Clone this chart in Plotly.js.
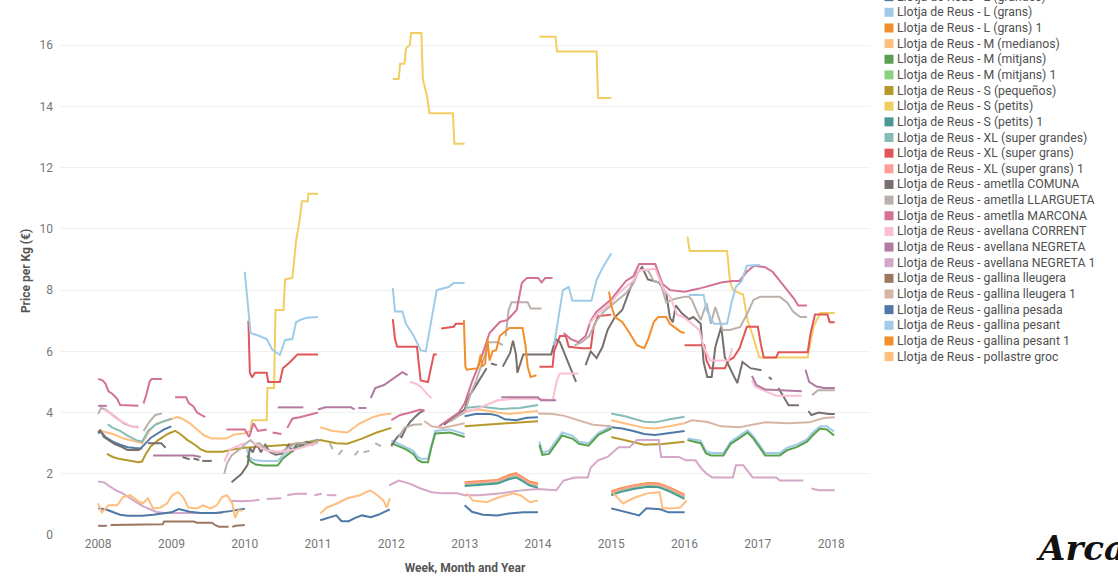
<!DOCTYPE html>
<html>
<head>
<meta charset="utf-8">
<script src="https://cdn.plot.ly/plotly-3.0.1.min.js"></script>
<style>html,body{margin:0;padding:0;background:#fff;}#chart{width:1118px;height:576px;}</style>
</head>
<body>
<div id="chart"></div>
<script>
// ---------- DATA (decimal year, price per kg); null = gap ----------
const seriesNames = [
  "Llotja de Reus - L (grandes)",
  "Llotja de Reus - L (grans)",
  "Llotja de Reus - L (grans) 1",
  "Llotja de Reus - M (medianos)",
  "Llotja de Reus - M (mitjans)",
  "Llotja de Reus - M (mitjans) 1",
  "Llotja de Reus - S (pequeños)",
  "Llotja de Reus - S (petits)",
  "Llotja de Reus - S (petits) 1",
  "Llotja de Reus - XL (super grandes)",
  "Llotja de Reus - XL (super grans)",
  "Llotja de Reus - XL (super grans) 1",
  "Llotja de Reus - ametlla COMUNA",
  "Llotja de Reus - ametlla LLARGUETA",
  "Llotja de Reus - ametlla MARCONA",
  "Llotja de Reus - avellana CORRENT",
  "Llotja de Reus - avellana NEGRETA",
  "Llotja de Reus - avellana NEGRETA 1",
  "Llotja de Reus - gallina lleugera",
  "Llotja de Reus - gallina lleugera 1",
  "Llotja de Reus - gallina pesada",
  "Llotja de Reus - gallina pesant",
  "Llotja de Reus - gallina pesant 1",
  "Llotja de Reus - pollastre groc"
];

const L_grandes = [[2008.0,3.32],[2008.04,3.38],[2008.1,3.2],[2008.2,3.05],[2008.3,2.95],[2008.4,2.87],[2008.5,2.84],[2008.58,2.83],[2008.65,3.0],[2008.72,3.18],[2008.8,3.3],[2008.9,3.45],[2009.0,3.55],null,
 [2013.0,3.88],[2013.15,3.95],[2013.35,3.95],[2013.45,3.9],[2013.55,3.78],[2013.7,3.75],[2013.85,3.83],[2014.0,3.85],null,
 [2015.0,3.52],[2015.15,3.48],[2015.3,3.4],[2015.45,3.3],[2015.6,3.27],[2015.8,3.33],[2016.0,3.4]];

const L_grans = [[2010.03,2.8],[2010.06,2.55],[2010.12,2.45],[2010.25,2.42],[2010.45,2.42],[2010.52,2.6],[2010.6,2.75],[2010.7,2.9],[2010.8,3.0],[2010.9,3.05],[2011.0,3.12],null,
 [2012.0,3.1],[2012.1,2.98],[2012.2,2.88],[2012.3,2.75],[2012.36,2.55],[2012.42,2.48],[2012.5,2.5],[2012.55,3.0],[2012.6,3.4],[2012.8,3.45],[2012.95,3.35],[2013.0,3.3],null,
 [2014.02,3.05],[2014.06,2.7],[2014.15,2.75],[2014.25,3.1],[2014.33,3.35],[2014.47,3.25],[2014.56,3.05],[2014.69,3.0],[2014.83,3.35],[2015.0,3.55],null,
 [2016.04,3.15],[2016.22,3.08],[2016.29,2.75],[2016.36,2.68],[2016.53,2.68],[2016.63,3.05],[2016.77,3.28],[2016.86,3.42],[2016.94,3.22],[2017.03,2.9],[2017.1,2.68],[2017.3,2.68],[2017.4,2.85],[2017.53,2.95],[2017.67,3.12],[2017.75,3.35],[2017.85,3.55],[2017.94,3.55],[2018.04,3.38]];

const L_grans_1 = [[2013.0,1.72],[2013.15,1.74],[2013.3,1.76],[2013.45,1.8],[2013.6,1.95],[2013.7,2.02],[2013.78,1.9],[2013.88,1.75],[2014.0,1.68],null,
 [2015.0,1.42],[2015.12,1.52],[2015.3,1.62],[2015.5,1.7],[2015.65,1.68],[2015.8,1.55],[2016.0,1.32]];

const M_medianos = [[2008.0,3.42],[2008.1,3.35],[2008.2,3.3],[2008.35,3.15],[2008.5,3.05],[2008.6,3.0],[2008.7,3.4],[2008.8,3.65],[2008.95,3.75],[2009.08,3.85],[2009.15,3.8],[2009.25,3.65],[2009.35,3.45],[2009.45,3.25],[2009.55,3.15],[2009.75,3.15],[2009.85,3.28],[2010.0,3.32],[2010.07,3.4],null,
 [2011.03,3.52],[2011.2,3.4],[2011.4,3.35],[2011.57,3.65],[2011.75,3.85],[2011.85,3.92],[2012.0,3.97],null,
 [2013.0,4.05],[2013.2,4.1],[2013.45,4.0],[2013.6,3.95],[2013.8,4.0],[2014.0,4.05],null,
 [2015.0,3.75],[2015.2,3.65],[2015.45,3.5],[2015.6,3.48],[2015.8,3.55],[2016.0,3.65]];

const M_mitjans = [[2010.03,2.6],[2010.08,2.4],[2010.15,2.3],[2010.25,2.27],[2010.45,2.27],[2010.52,2.5],[2010.6,2.65],[2010.7,2.85],[2010.8,2.95],[2010.9,3.0],[2011.0,3.05],null,
 [2012.0,3.0],[2012.1,2.9],[2012.2,2.8],[2012.3,2.65],[2012.36,2.45],[2012.42,2.38],[2012.5,2.38],[2012.55,2.9],[2012.6,3.32],[2012.8,3.35],[2012.95,3.22],[2013.0,3.2],null,
 [2014.02,2.95],[2014.06,2.62],[2014.15,2.65],[2014.25,3.0],[2014.33,3.25],[2014.47,3.15],[2014.56,2.98],[2014.69,2.92],[2014.83,3.28],[2015.0,3.48],null,
 [2016.04,3.1],[2016.22,3.0],[2016.29,2.67],[2016.36,2.6],[2016.53,2.6],[2016.63,2.98],[2016.77,3.2],[2016.86,3.35],[2016.94,3.15],[2017.03,2.83],[2017.1,2.6],[2017.3,2.6],[2017.4,2.77],[2017.53,2.87],[2017.67,3.05],[2017.75,3.26],[2017.85,3.48],[2017.94,3.45],[2018.04,3.25]];

const M_mitjans_1 = [[2013.0,1.66],[2013.15,1.68],[2013.3,1.7],[2013.45,1.74],[2013.6,1.88],[2013.7,1.95],[2013.78,1.84],[2013.88,1.68],[2014.0,1.6],null,
 [2015.0,1.36],[2015.12,1.46],[2015.3,1.56],[2015.5,1.64],[2015.65,1.62],[2015.8,1.48],[2016.0,1.24]];

const S_pequenos = [[2008.12,2.65],[2008.2,2.55],[2008.3,2.48],[2008.45,2.42],[2008.55,2.38],[2008.6,2.4],[2008.65,2.65],[2008.72,2.9],[2008.82,3.1],[2008.95,3.3],[2009.05,3.4],[2009.12,3.3],[2009.22,3.1],[2009.32,2.95],[2009.4,2.8],[2009.48,2.72],[2009.7,2.72],[2009.85,2.8],[2010.0,2.85],[2010.3,2.9],[2010.6,2.95],[2010.9,3.05],[2011.03,3.1],[2011.25,3.0],[2011.4,2.98],[2011.6,3.15],[2011.8,3.35],[2012.0,3.5],null,
 [2013.0,3.55],[2013.3,3.6],[2013.6,3.65],[2014.0,3.72],null,
 [2015.0,3.2],[2015.25,3.05],[2015.45,2.95],[2015.7,2.97],[2016.0,3.05]];

const S_petits = [[2010.08,3.45],[2010.1,3.75],[2010.3,3.75],[2010.31,4.8],[2010.4,4.8],[2010.42,7.35],[2010.53,7.35],[2010.55,8.35],[2010.65,8.4],[2010.7,9.6],[2010.75,10.3],[2010.78,10.9],[2010.86,10.9],[2010.87,11.15],[2011.0,11.15],null,
 [2012.02,14.9],[2012.1,14.9],[2012.12,15.4],[2012.18,15.4],[2012.2,15.9],[2012.25,16.0],[2012.27,16.4],[2012.41,16.4],[2012.43,14.9],[2012.49,14.3],[2012.52,13.78],[2012.84,13.78],[2012.86,12.78],[2013.0,12.78],null,
 [2014.02,16.28],[2014.24,16.28],[2014.26,15.8],[2014.8,15.8],[2014.82,14.28],[2015.0,14.28],null,
 [2016.04,9.75],[2016.07,9.28],[2016.58,9.28],[2016.62,8.3],[2016.66,8.0],[2016.8,7.85],[2016.86,7.0],[2016.92,6.6],[2017.02,5.8],[2017.68,5.8],[2017.72,6.3],[2017.76,6.8],[2017.85,7.25],[2018.05,7.25]];

const S_petits_1 = [[2013.0,1.6],[2013.15,1.62],[2013.3,1.64],[2013.45,1.68],[2013.6,1.82],[2013.7,1.88],[2013.78,1.78],[2013.88,1.62],[2014.0,1.54],null,
 [2015.0,1.3],[2015.12,1.4],[2015.3,1.5],[2015.5,1.58],[2015.65,1.56],[2015.8,1.42],[2016.0,1.18]];

const XL_grandes = [[2008.13,3.62],[2008.2,3.5],[2008.3,3.4],[2008.4,3.25],[2008.52,3.1],[2008.6,3.05],[2008.68,3.4],[2008.78,3.6],[2008.9,3.72],[2009.0,3.8],null,
 [2013.0,4.15],[2013.2,4.2],[2013.5,4.12],[2013.75,4.15],[2014.0,4.25],null,
 [2015.0,3.97],[2015.2,3.87],[2015.45,3.7],[2015.6,3.68],[2015.8,3.78],[2016.0,3.86]];

const XL_grans = [[2010.05,7.0],[2010.07,5.3],[2010.1,5.15],[2010.14,5.3],[2010.3,5.3],[2010.32,5.0],[2010.48,5.0],[2010.52,5.45],[2010.62,5.65],[2010.72,5.9],[2011.0,5.9],null,
 [2012.02,7.05],[2012.05,6.4],[2012.08,6.15],[2012.35,6.15],[2012.37,5.7],[2012.4,5.05],[2012.5,5.0],[2012.55,5.6],[2012.58,5.9],[2012.62,5.9],null,
 [2012.68,6.75],[2012.85,6.8],[2012.88,6.9],[2013.0,6.9],null,
 [2014.02,5.5],[2014.2,5.5],[2014.22,6.0],[2014.3,6.5],[2014.38,6.5],[2014.42,6.15],[2014.6,6.1],[2014.72,6.1],[2014.76,6.8],[2014.82,7.15],[2015.0,7.2],null,
 [2016.0,6.2],[2016.27,6.2],[2016.3,5.7],[2016.35,5.45],[2016.55,5.45],[2016.6,5.7],[2016.67,5.8],[2016.75,6.1],[2016.85,6.8],[2017.0,6.8],[2017.04,6.25],[2017.08,5.8],[2017.25,5.8],[2017.28,5.97],[2017.68,5.97],[2017.72,6.6],[2017.78,7.2],[2017.95,7.2],[2017.98,6.95],[2018.05,6.95]];

const XL_grans_1 = [[2013.0,1.69],[2013.15,1.71],[2013.3,1.73],[2013.45,1.77],[2013.6,1.91],[2013.7,1.98],[2013.78,1.87],[2013.88,1.71],[2014.0,1.64],null,
 [2015.0,1.39],[2015.12,1.49],[2015.3,1.59],[2015.5,1.67],[2015.65,1.65],[2015.8,1.52],[2016.0,1.28]];

const COMUNA = [[2008.0,3.35],[2008.03,3.42],[2008.08,3.2],[2008.15,3.1],[2008.22,2.98],[2008.3,2.9],[2008.4,2.78],[2008.55,2.78],[2008.6,2.85],null,
 [2008.68,3.0],[2008.86,3.0],[2008.92,2.85],null,
 [2009.15,2.55],[2009.25,2.47],null,[2009.3,2.5],[2009.38,2.45],null,[2009.42,2.42],[2009.55,2.42],null,
 [2009.82,1.72],[2009.86,1.8],[2009.9,1.85],[2009.95,1.98],[2010.0,2.15],[2010.04,2.3],[2010.07,2.85],[2010.11,2.7],[2010.16,3.0],[2010.22,2.7],[2010.28,2.95],[2010.34,2.72],[2010.42,2.62],[2010.5,2.65],[2010.56,2.8],[2010.6,2.95],[2010.65,2.72],[2010.72,3.0],[2010.78,2.9],[2010.85,3.05],[2010.92,2.95],[2011.0,3.12],null,
 [2012.0,2.9],[2012.05,3.1],[2012.1,3.25],[2012.14,3.2],[2012.2,3.5],[2012.26,3.7],[2012.32,3.85],[2012.38,3.98],[2012.45,4.08],null,
 [2012.72,3.6],[2012.85,3.85],[2013.0,4.1],[2013.05,4.5],[2013.12,4.75],[2013.2,5.05],[2013.26,5.3],[2013.3,5.45],null,
 [2013.36,5.6],[2013.44,5.55],null,[2013.52,5.5],[2013.56,5.7],[2013.62,5.95],[2013.66,6.35],[2013.7,5.9],[2013.72,5.3],[2013.76,5.6],[2013.8,5.9],[2014.18,5.9],[2014.24,6.4],[2014.3,6.3],[2014.35,6.0],[2014.45,5.4],[2014.52,5.0],null,
 [2014.65,5.55],[2014.72,6.0],[2014.8,5.78],[2014.88,6.14],[2014.95,6.7],[2015.05,7.12],[2015.15,7.35],[2015.25,8.0],[2015.35,8.55],[2015.42,8.75],[2015.5,8.35],[2015.65,8.25],[2015.75,7.9],[2015.8,7.1],[2015.84,6.95],[2015.88,7.5],[2015.96,7.25],[2016.06,7.05],[2016.12,7.12],[2016.22,6.9],[2016.26,5.65],[2016.31,5.16],[2016.37,5.16],[2016.42,6.14],[2016.5,6.8],[2016.55,5.8],[2016.63,5.4],[2016.72,4.96],[2016.79,5.65],[2016.9,5.45],[2017.05,5.38],null,
 [2017.15,5.16],[2017.19,5.08],null,
 [2017.28,4.8],[2017.38,4.4],[2017.42,4.24],[2017.56,4.24],null,
 [2017.69,4.05],[2017.73,3.92],[2017.83,4.0],[2017.97,3.95],[2018.05,3.95]];

const LLARGUETA = [[2008.0,3.95],[2008.04,4.15],[2008.1,4.1],[2008.18,3.95],[2008.26,3.8],[2008.35,3.65],[2008.45,3.55],[2008.55,3.52],null,
 [2008.62,3.4],[2008.7,3.7],[2008.78,3.92],[2008.87,3.97],null,
 [2009.72,2.0],[2009.76,2.35],[2009.82,2.6],[2009.9,2.75],[2009.96,2.85],[2010.02,3.0],[2010.08,3.1],[2010.14,2.95],[2010.2,3.0],[2010.3,2.8],[2010.4,2.7],[2010.5,2.72],[2010.6,2.85],[2010.7,3.0],[2010.8,3.0],[2010.9,2.95],[2011.0,3.1],null,
 [2011.16,3.0],[2011.2,2.8],null,[2011.28,2.62],[2011.33,2.78],null,[2011.5,2.6],[2011.55,2.75],null,[2011.62,2.7],[2011.7,2.75],null,[2011.78,3.0],[2011.86,2.9],null,
 [2012.1,3.2],[2012.18,3.5],[2012.3,3.6],[2012.42,3.62],null,
 [2012.8,3.7],[2012.92,3.9],[2013.0,4.0],[2013.08,4.6],[2013.15,5.0],[2013.22,5.5],[2013.28,5.9],[2013.32,6.3],[2013.45,6.3],[2013.52,6.2],null,
 [2013.56,6.5],[2013.6,7.35],[2013.64,7.6],[2013.86,7.6],[2013.9,7.4],[2014.05,7.4],null,
 [2014.5,6.2],[2014.6,6.3],[2014.7,6.5],[2014.8,7.0],[2014.9,7.3],[2015.0,7.5],[2015.1,7.7],[2015.2,7.9],[2015.3,8.2],[2015.38,8.65],[2015.5,8.65],[2015.58,8.3],[2015.67,8.23],[2015.75,7.6],[2015.85,7.7],[2016.0,7.78],[2016.06,7.78],[2016.1,7.68],[2016.15,7.4],[2016.22,7.02],[2016.3,7.58],[2016.36,6.9],[2016.42,7.45],[2016.52,6.7],[2016.62,6.7],[2016.76,6.8],[2016.86,7.25],[2016.94,7.68],[2017.03,7.78],[2017.3,7.78],[2017.4,7.6],[2017.48,7.3],[2017.58,7.12],[2017.67,7.12],null,
 [2017.74,4.57],[2017.82,4.73],[2018.05,4.73]];

const MARCONA = [[2008.0,5.1],[2008.06,5.05],[2008.1,4.95],[2008.14,4.7],[2008.2,4.6],[2008.26,4.45],[2008.3,4.25],[2008.55,4.22],null,
 [2008.62,4.3],[2008.66,4.6],[2008.7,5.0],[2008.73,5.1],[2008.87,5.1],null,
 [2009.05,4.5],[2009.2,4.5],[2009.24,4.3],[2009.3,4.2],[2009.35,4.0],[2009.42,3.9],[2009.46,3.85],null,
 [2009.75,3.45],[2010.0,3.45],[2010.06,3.2],[2010.12,3.65],[2010.18,3.4],[2010.3,3.45],null,[2010.38,3.35],[2010.5,3.3],null,[2010.58,3.5],[2010.65,3.8],[2010.75,3.85],[2010.9,3.95],[2011.0,4.0],null,
 [2012.0,3.75],[2012.12,3.92],[2012.26,4.0],[2012.4,4.1],[2012.45,4.05],null,
 [2012.65,3.55],[2012.8,3.8],[2012.92,4.0],[2013.0,4.3],[2013.1,5.0],[2013.2,5.6],[2013.34,6.6],[2013.48,6.96],[2013.58,7.02],[2013.71,7.35],[2013.78,8.23],[2013.85,8.4],[2014.0,8.4],[2014.05,8.25],[2014.1,8.4],[2014.2,8.4],null,
 [2014.35,6.6],[2014.45,6.4],[2014.55,6.3],[2014.65,6.5],[2014.72,7.0],[2014.8,7.3],[2014.9,7.5],[2015.0,7.7],[2015.1,8.0],[2015.2,8.3],[2015.3,8.45],[2015.38,8.85],[2015.6,8.85],[2015.65,8.55],[2015.7,8.2],[2015.8,8.0],[2016.0,7.95],[2016.2,8.05],[2016.35,8.15],[2016.5,8.25],[2016.65,8.3],[2016.75,8.3],[2016.85,8.6],[2016.95,8.8],[2017.1,8.75],[2017.2,8.6],[2017.3,8.3],[2017.4,8.0],[2017.5,7.7],[2017.55,7.5],[2017.67,7.5]];

const CORRENT = [[2008.08,4.1],[2008.15,4.0],[2008.25,3.8],[2008.35,3.68],[2008.45,3.56],[2008.55,3.5],null,
 [2009.72,2.4],[2009.8,2.8],[2009.9,2.9],[2010.0,3.0],null,
 [2010.12,3.0],[2010.3,2.75],[2010.5,2.72],[2010.7,2.8],[2010.9,2.95],[2011.0,3.0],null,
 [2012.25,5.0],[2012.32,4.96],[2012.4,4.85],[2012.5,4.57],[2012.55,4.47],null,
 [2013.0,4.0],[2013.2,4.15],[2013.45,4.4],[2013.7,4.45],[2014.0,4.45],[2014.2,4.4],[2014.26,5.06],[2014.3,5.28],[2014.55,5.28],null,
 [2014.7,6.9],[2014.8,7.2],[2014.9,7.4],[2015.0,7.6],[2015.1,7.9],[2015.2,8.1],[2015.3,8.3],[2015.38,8.65],[2015.6,8.7],[2015.65,8.4],[2015.72,8.0],[2015.8,7.8],[2015.9,7.2],[2016.0,7.1],[2016.1,6.9],[2016.2,6.7],[2016.26,6.14],[2016.35,5.7],[2016.6,5.7],[2016.65,6.1],null,
 [2016.92,5.06],[2016.96,4.85],[2017.1,4.7],[2017.25,4.55],[2017.6,4.55]];

const NEGRETA = [[2008.0,4.22],[2008.12,4.22],null,
 [2008.75,2.6],[2008.9,2.6],[2009.1,2.62],[2009.3,2.6],[2009.4,2.55],null,
 [2010.45,4.17],[2010.8,4.17],null,
 [2011.0,4.1],[2011.1,4.17],[2011.45,4.17],[2011.5,4.1],null,[2011.55,4.15],[2011.66,4.15],null,
 [2011.72,4.47],[2011.78,4.8],[2011.9,4.9],[2012.05,5.16],[2012.15,5.32],[2012.22,5.22],null,
 [2013.5,4.5],[2014.0,4.5],[2014.04,4.4],[2014.25,4.4],null,
 [2016.92,5.2],[2016.98,4.9],[2017.1,4.75],[2017.6,4.7],null,
 [2017.65,5.4],[2017.7,5.0],[2017.8,4.85],[2017.9,4.8],[2018.05,4.8]];

const NEGRETA_1 = [[2008.0,1.75],[2008.08,1.72],[2008.15,1.6],[2008.25,1.45],[2008.32,1.38],[2008.4,1.25],[2008.5,1.1],[2008.6,0.95],[2008.7,0.85],[2008.8,0.75],[2008.9,0.72],[2009.0,0.72],[2009.2,0.7],[2009.4,0.7],[2009.6,0.72],[2009.7,0.72],null,
 [2009.8,1.12],[2009.95,1.1],[2010.1,1.12],[2010.2,1.15],null,[2010.3,1.18],[2010.5,1.2],null,[2010.58,1.3],[2010.7,1.35],[2010.85,1.35],null,[2010.95,1.3],[2011.05,1.35],null,[2011.12,1.3],[2011.25,1.3],null,
 [2011.97,1.62],[2012.1,1.78],[2012.25,1.68],[2012.4,1.52],[2012.55,1.4],[2012.7,1.36],[2012.9,1.36],[2013.0,1.3],[2013.2,1.3],[2013.5,1.36],[2013.75,1.45],[2014.0,1.5],[2014.25,1.46],[2014.35,1.78],[2014.5,1.88],[2014.68,1.88],[2014.72,2.2],[2014.82,2.44],[2014.95,2.55],[2015.0,2.65],[2015.1,2.87],[2015.25,2.87],[2015.35,3.1],[2015.65,3.1],[2015.68,2.55],[2015.92,2.55],[2016.02,2.44],[2016.15,2.44],[2016.22,2.2],[2016.3,2.0],[2016.38,1.88],[2016.66,1.88],[2016.7,2.28],[2016.8,2.28],[2016.86,2.11],[2016.93,1.88],[2017.25,1.88],[2017.3,1.78],[2017.62,1.78],null,
 [2017.73,1.52],[2017.83,1.46],[2018.05,1.46]];

const lleugera = [[2008.0,0.3],[2008.12,0.3],null,[2008.17,0.33],[2008.88,0.35],[2008.9,0.44],[2009.3,0.44],[2009.35,0.4],[2009.55,0.4],[2009.6,0.32],[2009.65,0.27],[2009.78,0.27],null,[2009.83,0.27],[2009.88,0.3],[2010.0,0.33]];

const lleugera_1 = [[2012.45,3.72],[2012.55,3.55],[2012.7,3.5],[2012.85,3.58],[2013.0,3.65],null,
 [2014.0,3.97],[2014.2,3.95],[2014.35,3.9],[2014.55,3.75],[2014.75,3.6],[2015.0,3.55],null,
 [2016.0,3.65],[2016.1,3.75],[2016.3,3.7],[2016.5,3.55],[2016.75,3.52],[2016.95,3.62],[2017.1,3.68],[2017.4,3.65],[2017.7,3.68],[2017.9,3.82],[2018.05,3.85]];

const pesada = [[2008.0,0.87],[2008.1,0.84],[2008.2,0.75],[2008.3,0.66],[2008.4,0.63],[2008.6,0.63],[2008.75,0.66],[2008.9,0.7],[2009.0,0.74],[2009.1,0.85],[2009.15,0.82],[2009.25,0.76],[2009.4,0.72],[2009.6,0.72],[2009.8,0.78],[2010.0,0.86],null,
 [2011.03,0.48],[2011.15,0.58],[2011.25,0.64],[2011.32,0.45],[2011.42,0.45],[2011.5,0.55],[2011.6,0.64],[2011.72,0.58],[2011.82,0.66],[2011.98,0.84],null,
 [2013.0,0.97],[2013.1,0.76],[2013.25,0.66],[2013.45,0.64],[2013.6,0.7],[2013.8,0.74],[2014.0,0.74],null,
 [2015.0,0.87],[2015.2,0.74],[2015.38,0.64],[2015.48,0.87],[2015.67,0.84],[2015.78,0.74],[2016.0,0.74]];

const pesant = [[2010.0,8.6],[2010.05,7.3],[2010.08,6.6],[2010.2,6.5],[2010.3,6.4],[2010.38,6.04],[2010.48,5.88],[2010.55,6.37],[2010.65,6.4],[2010.7,6.95],[2010.78,7.05],[2010.85,7.1],[2011.0,7.12],null,
 [2012.02,8.07],[2012.05,7.3],[2012.15,7.3],[2012.2,6.9],[2012.3,6.53],[2012.4,6.04],[2012.47,6.0],[2012.55,7.0],[2012.62,8.0],[2012.78,8.1],[2012.85,8.23],[2013.0,8.23],null,
 [2014.22,6.2],[2014.3,7.5],[2014.34,8.0],[2014.42,8.1],[2014.47,7.65],[2014.73,7.65],[2014.8,8.33],[2014.88,8.72],[2014.97,9.08],[2015.0,9.2],null,
 [2016.06,7.84],[2016.26,7.84],[2016.3,7.35],[2016.4,6.9],[2016.58,6.9],[2016.64,7.58],[2016.7,8.1],[2016.78,8.3],[2016.85,8.8],[2017.03,8.82]];

const pesant_1 = [[2012.99,7.02],[2013.01,5.5],[2013.03,5.4],[2013.18,5.45],[2013.22,5.9],[2013.24,5.5],[2013.28,5.6],[2013.31,6.4],[2013.34,5.7],[2013.38,6.0],[2013.43,6.04],[2013.48,6.5],[2013.61,6.76],[2013.79,6.76],[2013.83,6.2],[2013.86,5.5],[2013.9,5.16],[2013.98,5.22],null,
 [2014.97,7.95],[2015.0,7.5],[2015.05,7.12],[2015.15,6.96],[2015.25,6.6],[2015.35,6.2],[2015.45,6.1],[2015.5,6.37],[2015.58,6.96],[2015.64,7.12],[2015.75,7.12],[2015.8,6.9],[2015.88,6.76],[2015.95,6.63],[2016.0,6.6]];

const pollastre = [[2008.0,1.03],[2008.05,0.74],[2008.14,0.97],[2008.26,0.97],[2008.34,1.24],[2008.44,1.3],[2008.53,1.13],[2008.61,1.03],[2008.68,1.2],[2008.75,0.87],[2008.85,0.9],[2008.94,1.03],[2009.01,1.3],[2009.09,1.4],[2009.16,1.24],[2009.23,0.9],[2009.35,0.87],[2009.43,0.97],[2009.53,0.87],[2009.62,0.97],[2009.69,1.24],[2009.76,1.3],[2009.83,1.03],[2009.87,0.56],[2009.91,0.8],[2009.97,0.8],null,
 [2011.03,0.7],[2011.12,0.9],[2011.26,1.03],[2011.4,1.2],[2011.57,1.3],[2011.71,1.46],[2011.81,1.3],[2011.89,1.13],[2011.94,0.9],[2011.98,1.2],null,
 [2013.03,1.36],[2013.11,1.13],[2013.3,1.07],[2013.48,1.24],[2013.66,1.36],[2013.76,1.3],[2013.89,1.07],[2014.0,1.13],null,
 [2015.03,1.36],[2015.16,1.03],[2015.3,1.2],[2015.49,1.36],[2015.66,1.4],[2015.7,0.87],[2015.84,0.87],[2015.94,0.9],[2016.03,1.13]];

const seriesData = [L_grandes, L_grans, L_grans_1, M_medianos, M_mitjans, M_mitjans_1, S_pequenos, S_petits, S_petits_1,
  XL_grandes, XL_grans, XL_grans_1, COMUNA, LLARGUETA, MARCONA, CORRENT, NEGRETA, NEGRETA_1,
  lleugera, lleugera_1, pesada, pesant, pesant_1, pollastre];

const yearTicks = [2008, 2009, 2010, 2011, 2012, 2013, 2014, 2015, 2016, 2017, 2018];
const priceTicks = [0, 2, 4, 6, 8, 10, 12, 14, 16];

// ---------- STYLE ----------
const palette = ["#4E79A7","#A0CBE8","#F28E2B","#FFBE7D","#59A14F","#8CD17D","#B6992D","#F1CE63","#499894","#86BCB6",
  "#E15759","#FF9D9A","#79706E","#BAB0AC","#D37295","#FABFD2","#B07AA1","#D4A6C8","#9D7660","#D7B5A6",
  "#4E79A7","#A0CBE8","#F28E2B","#FFBE7D"];

const PL = 60, PR = 870, PT = 7, PB = 535, W = 1118, H = 576;
const px2x = px => (px - PL) / (PR - PL);
const py2y = py => (PB - py) / (PB - PT);

const traces = seriesData.map((pts, i) => ({
  type: 'scatter', mode: 'lines', name: seriesNames[i],
  x: pts.map(p => p ? p[0] : null),
  y: pts.map(p => p ? p[1] : null),
  connectgaps: false,
  line: {color: palette[i], width: 2},
  showlegend: false,
  hovertemplate: '%{y:.2f}<extra>' + seriesNames[i] + '</extra>'
}));

// custom legend (square swatches, list clipped at top like the original)
const shapes = [], annotations = [];
seriesNames.forEach((n, i) => {
  const cy = -3.35 + 15.65 * i;
  shapes.push({type: 'rect', xref: 'paper', yref: 'paper',
    x0: px2x(884.5), x1: px2x(893.5), y0: py2y(cy + 4.5), y1: py2y(cy - 4.5),
    fillcolor: palette[i], line: {width: 0}, layer: 'above'});
  annotations.push({xref: 'paper', yref: 'paper', x: px2x(894.5), y: py2y(cy),
    xanchor: 'left', yanchor: 'middle', showarrow: false, text: n,
    font: {family: 'Roboto, sans-serif', size: 12.3, color: '#505050'}});
});
annotations.push({xref: 'paper', yref: 'paper', x: px2x(1034), y: py2y(548),
  xanchor: 'left', yanchor: 'middle', showarrow: false, text: 'Arca',
  font: {family: 'DejaVu Serif, serif', size: 34, color: '#111', style: 'italic', weight: 'bold'}});

const layout = {
  width: W, height: H,
  margin: {l: PL, r: W - PR, t: PT, b: H - PB, autoexpand: false},
  paper_bgcolor: '#fff', plot_bgcolor: '#fff',
  font: {family: 'Roboto, sans-serif', color: '#777'},
  showlegend: false,
  xaxis: {
    range: [2007.48, 2018.53], tickmode: 'array', tickvals: yearTicks, ticktext: yearTicks.map(String),
    showgrid: false, zeroline: false, showline: false, ticks: '',
    tickfont: {size: 12, color: '#777'},
    title: {text: 'Week, Month and Year', font: {size: 12, color: '#555', weight: 'bold'}, standoff: 13}
  },
  yaxis: {
    range: [0, 17.25], tickmode: 'array', tickvals: priceTicks,
    showgrid: true, gridcolor: '#f0f0f0', gridwidth: 1, zeroline: false, showline: false, ticks: '',
    tickfont: {size: 12, color: '#777'}, ticklabelstandoff: 6,
    title: {text: 'Price per Kg (€)', font: {size: 12, color: '#555', weight: 'bold'}, standoff: 6}
  },
  shapes: shapes, annotations: annotations
};

Plotly.newPlot('chart', traces, layout, {displayModeBar: false, staticPlot: false});
</script>
</body>
</html>
